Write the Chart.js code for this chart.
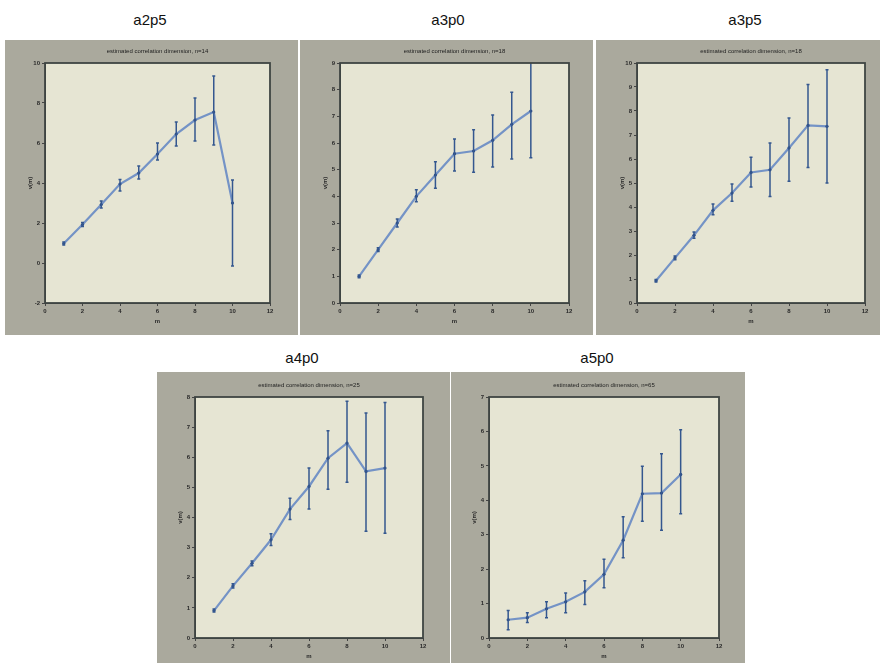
<!DOCTYPE html>
<html>
<head>
<meta charset="utf-8">
<script src="https://cdn.jsdelivr.net/npm/chart.js@4/dist/chart.umd.min.js"></script>
<style>
  body { margin: 0; background: #fff; }
  #wrap { position: relative; width: 880px; height: 665px; overflow: hidden; }
  .frame { position: absolute; background: #aaa99d; }
  .name { position: absolute; font: 15px "Liberation Sans", Arial, sans-serif; color: #111; transform: translate(-50%, -50%); }
</style>
</head>
<body>
<div id="wrap">
  <div class="name" style="left:150px;top:19px">a2p5</div>
  <div class="name" style="left:448px;top:19px">a3p0</div>
  <div class="name" style="left:745px;top:19px">a3p5</div>
  <div class="name" style="left:302px;top:357px">a4p0</div>
  <div class="name" style="left:597px;top:357px">a5p0</div>
  <div class="frame" style="left:5px;top:40px;width:293px;height:295px"><canvas id="c1" width="293" height="295"></canvas></div>
  <div class="frame" style="left:300px;top:40px;width:293px;height:295px"><canvas id="c2" width="293" height="295"></canvas></div>
  <div class="frame" style="left:596px;top:40px;width:284px;height:295px"><canvas id="c3" width="284" height="295"></canvas></div>
  <div class="frame" style="left:157px;top:372px;width:293px;height:291px"><canvas id="c4" width="293" height="291"></canvas></div>
  <div class="frame" style="left:451px;top:372px;width:294px;height:291px"><canvas id="c5" width="294" height="291"></canvas></div>
</div>
<script>
// embedding dimension m
const mValues = [1, 2, 3, 4, 5, 6, 7, 8, 9, 10];

// a2p5, n=14
const a2p5Values = [0.97, 1.92, 2.92, 3.95, 4.5, 5.45, 6.45, 7.15, 7.55, 3.0];
const a2p5Lower  = [0.9, 1.82, 2.75, 3.6, 4.2, 5.15, 5.85, 6.1, 5.9, -0.15];
const a2p5Upper  = [1.05, 2.02, 3.1, 4.17, 4.85, 6.0, 7.05, 8.25, 9.35, 4.15];

// a3p0, n=18
const a3p0Values = [1.0, 2.0, 3.0, 4.0, 4.8, 5.6, 5.7, 6.1, 6.7, 7.2];
const a3p0Lower  = [0.95, 1.93, 2.85, 3.8, 4.3, 4.95, 4.9, 5.1, 5.4, 5.45];
const a3p0Upper  = [1.05, 2.07, 3.15, 4.25, 5.3, 6.15, 6.5, 7.05, 7.9, 9.5];

// a3p5, n=18
const a3p5Values = [0.93, 1.88, 2.82, 3.86, 4.58, 5.44, 5.55, 6.46, 7.4, 7.36];
const a3p5Lower  = [0.88, 1.8, 2.7, 3.68, 4.24, 4.83, 4.44, 5.07, 5.65, 5.0];
const a3p5Upper  = [0.98, 1.96, 2.96, 4.12, 4.96, 6.07, 6.67, 7.71, 9.1, 9.72];

// a4p0, n=25
const a4p0Values = [0.91, 1.73, 2.48, 3.26, 4.28, 5.03, 5.97, 6.47, 5.53, 5.64];
const a4p0Lower  = [0.86, 1.66, 2.4, 3.07, 3.93, 4.28, 4.94, 5.17, 3.54, 3.48];
const a4p0Upper  = [0.96, 1.8, 2.56, 3.46, 4.64, 5.64, 6.88, 7.86, 7.47, 7.82];

// a5p0, n=65
const a5p0Values = [0.53, 0.59, 0.85, 1.05, 1.34, 1.85, 2.84, 4.19, 4.21, 4.75];
const a5p0Lower  = [0.24, 0.45, 0.59, 0.73, 0.97, 1.46, 2.33, 3.39, 3.13, 3.61];
const a5p0Upper  = [0.8, 0.73, 1.05, 1.31, 1.66, 2.29, 3.52, 4.99, 5.35, 6.05];

const tickFont = { family: 'Arial, "Liberation Sans", sans-serif', size: 6, weight: 'bold' };

// yellowish plot area, box and title
const plotArea = {
  id: 'plotArea',
  beforeDraw(chart) {
    const a = chart.chartArea, ctx = chart.ctx;
    ctx.save();
    ctx.fillStyle = '#e6e5d3';
    ctx.fillRect(a.left, a.top, a.right - a.left, a.bottom - a.top);
    ctx.restore();
  },
  afterDraw(chart, args, opts) {
    const a = chart.ctx, ca = chart.chartArea;
    a.save();
    a.strokeStyle = '#3f4543';
    a.lineWidth = 1.8;
    a.strokeRect(ca.left, ca.top, ca.right - ca.left, ca.bottom - ca.top);
    a.fillStyle = '#222';
    a.font = '6px Arial, "Liberation Sans", sans-serif';
    a.textAlign = 'center';
    a.textBaseline = 'middle';
    a.fillText(opts.text, (ca.left + ca.right) / 2, ca.top - 12);
    a.restore();
  }
};

// vertical error bars from the lower / upper arrays
const errorBars = {
  id: 'errorBars',
  afterDatasetsDraw(chart, args, opts) {
    const x = chart.scales.x, y = chart.scales.y, ctx = chart.ctx, ca = chart.chartArea;
    ctx.save();
    ctx.beginPath();
    ctx.rect(ca.left, ca.top, ca.right - ca.left, ca.bottom - ca.top);
    ctx.clip();
    ctx.strokeStyle = '#34578f';
    ctx.lineWidth = 1.5;
    mValues.forEach((m, i) => {
      const px = x.getPixelForValue(m);
      const y1 = y.getPixelForValue(opts.upper[i]);
      const y2 = y.getPixelForValue(opts.lower[i]);
      ctx.beginPath();
      ctx.moveTo(px, y1); ctx.lineTo(px, y2);
      ctx.moveTo(px - 1.5, y1); ctx.lineTo(px + 1.5, y1);
      ctx.moveTo(px - 1.5, y2); ctx.lineTo(px + 1.5, y2);
      ctx.stroke();
    });
    ctx.restore();
  }
};

function makePanel(id, values, lower, upper, yMin, yMax, yStep, title, box) {
  new Chart(document.getElementById(id), {
    type: 'line',
    data: {
      datasets: [{
        data: mValues.map((m, i) => ({ x: m, y: values[i] })),
        borderColor: '#7493c6',
        borderWidth: 2.2,
        pointRadius: 1.6,
        pointBackgroundColor: '#2c4c85',
        pointBorderWidth: 0,
        tension: 0
      }]
    },
    options: {
      responsive: false,
      animation: false,
      layout: { padding: { left: box.left - 18, top: box.top, right: box.right, bottom: box.bottom - 22 } },
      plugins: {
        legend: { display: false },
        tooltip: { enabled: false },
        plotArea: { text: title },
        errorBars: { lower: lower, upper: upper }
      },
      scales: {
        x: {
          type: 'linear', min: 0, max: 12,
          afterFit: s => { s.height = 22; },
          ticks: { stepSize: 2, font: tickFont, color: '#2a2a2a', padding: 2, maxRotation: 0 },
          grid: { drawOnChartArea: false, tickLength: 3, color: '#444' },
          border: { color: '#444' },
          title: { display: true, text: 'm', font: tickFont, color: '#2a2a2a', padding: 0 }
        },
        y: {
          min: yMin, max: yMax,
          afterFit: s => { s.width = 18; },
          ticks: { stepSize: yStep, font: tickFont, color: '#2a2a2a', padding: 2 },
          grid: { drawOnChartArea: false, tickLength: 3, color: '#444' },
          border: { color: '#444' },
          title: { display: true, text: 'ν(m)', font: tickFont, color: '#2a2a2a', padding: 0 }
        }
      }
    },
    plugins: [plotArea, errorBars]
  });
}

makePanel('c1', a2p5Values, a2p5Lower, a2p5Upper, -2, 10, 2, 'estimated correlation dimension, n=14', { left: 40, top: 23, right: 28, bottom: 32 });
makePanel('c2', a3p0Values, a3p0Lower, a3p0Upper, 0, 9, 1, 'estimated correlation dimension, n=18', { left: 40, top: 23, right: 24, bottom: 32 });
makePanel('c3', a3p5Values, a3p5Lower, a3p5Upper, 0, 10, 1, 'estimated correlation dimension, n=18', { left: 41, top: 23, right: 15, bottom: 32 });
makePanel('c4', a4p0Values, a4p0Lower, a4p0Upper, 0, 8, 1, 'estimated correlation dimension, n=25', { left: 38, top: 25, right: 27, bottom: 25 });
makePanel('c5', a5p0Values, a5p0Lower, a5p0Upper, 0, 7, 1, 'estimated correlation dimension, n=65', { left: 38, top: 25, right: 26, bottom: 25 });
</script>
</body>
</html>
